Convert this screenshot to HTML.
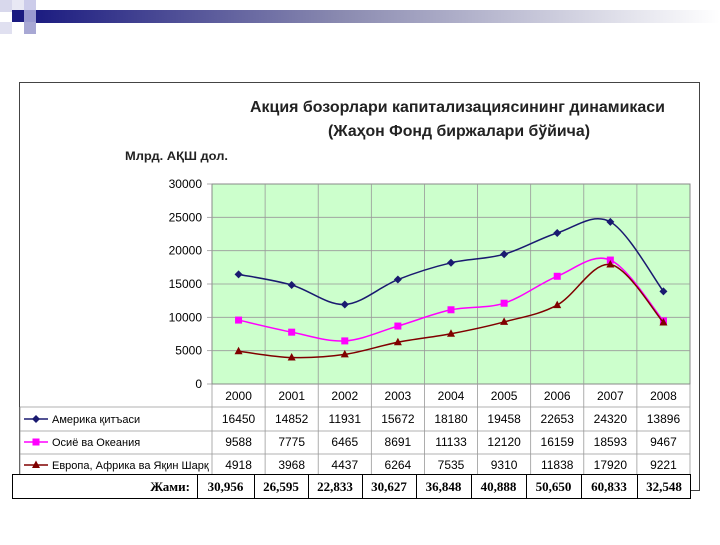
<!DOCTYPE html>
<html><head><meta charset="utf-8"><style>
body{margin:0;width:720px;height:540px;background:#fff;overflow:hidden;font-family:"Liberation Sans",sans-serif}
</style></head><body>
<svg id="s" width="720" height="540" xmlns="http://www.w3.org/2000/svg" font-family="Liberation Sans, sans-serif">
<defs><linearGradient id="g" x1="0" x2="1"><stop offset="0" stop-color="#1a1a80"/><stop offset="0.45" stop-color="#8a8ab0"/><stop offset="1" stop-color="#fff"/></linearGradient></defs>
<rect x="30" y="10" width="690" height="13" fill="url(#g)"/>
<rect x="0" y="0" width="12" height="12" fill="#d8d8ec"/>
<rect x="12" y="0" width="12" height="10" fill="#e8e8f4"/>
<rect x="24" y="0" width="12" height="10" fill="#ccccea"/>
<rect x="12" y="10" width="12" height="12" fill="#1a1a80"/>
<rect x="24" y="10" width="12" height="12" fill="#9a9ad0"/>
<rect x="0" y="22" width="12" height="12" fill="#e0e0f0"/>
<rect x="24" y="22" width="12" height="12" fill="#a8a8d4"/>
<rect x="19.5" y="82.5" width="680" height="408" fill="#fff" stroke="#444" stroke-width="1"/>
<text x="250" y="112" font-size="16" font-weight="bold" fill="#222" textLength="415" lengthAdjust="spacingAndGlyphs">Акция бозорлари капитализациясининг динамикаси</text>
<text x="328" y="136" font-size="16" font-weight="bold" fill="#222" textLength="262" lengthAdjust="spacingAndGlyphs">(Жаҳон Фонд биржалари бўйича)</text>
<text x="125" y="160" font-size="12" font-weight="bold" fill="#222" textLength="103" lengthAdjust="spacingAndGlyphs">Млрд. АҚШ дол.</text>
<rect x="212" y="184" width="478" height="200" fill="#ccffcc" stroke="#888"/>
<g id="grid" stroke="#999" stroke-width="0.8"></g>
<g id="lab" font-size="12" fill="#000"></g>
<g id="ser"></g>
<rect x="12.5" y="474.5" width="678" height="24" fill="#fff" stroke="#000"/>
<g id="tot" font-family="Liberation Serif, serif" font-weight="bold" font-size="13"></g>
</svg>
<script>
var NS="http://www.w3.org/2000/svg",s=document.getElementById('s');
function el(p,t,a,txt){var e=document.createElementNS(NS,t);for(var k in a)e.setAttribute(k,a[k]);if(txt!=null)e.textContent=txt;document.getElementById(p).appendChild(e);return e;}
var X0=212,W=478/9,yrs=[2000,2001,2002,2003,2004,2005,2006,2007,2008];
function Y(v){return 384-v*200/30000;}
for(var v=5000;v<30000;v+=5000)el('grid','line',{x1:212,x2:690,y1:Y(v),y2:Y(v)});
for(var i=1;i<9;i++)el('grid','line',{x1:X0+i*W,x2:X0+i*W,y1:184,y2:477});
for(var v=0;v<=30000;v+=5000){el('grid','line',{x1:207,x2:212,y1:Y(v),y2:Y(v)});el('lab','text',{x:202,y:Y(v)+4,'text-anchor':'end'},v);}
el('grid','line',{x1:212,x2:212,y1:384,y2:477});
el('grid','line',{x1:690,x2:690,y1:384,y2:477});
[407,431,454,477].forEach(function(y){el('grid','line',{x1:20,x2:690,y1:y,y2:y});});
el('grid','line',{x1:20,x2:20,y1:407,y2:477});
yrs.forEach(function(y,i){el('lab','text',{x:X0+W*(i+.5),y:400,'text-anchor':'middle'},y);});
var S=[{n:"Америка қитъаси",c:"#1a1a70",m:"d",d:[16450,14852,11931,15672,18180,19458,22653,24320,13896]},
{n:"Осиё ва Океания",c:"#ff00ff",m:"s",d:[9588,7775,6465,8691,11133,12120,16159,18593,9467]},
{n:"Европа, Африка ва Яқин Шарқ",c:"#800000",m:"t",d:[4918,3968,4437,6264,7535,9310,11838,17920,9221]}];
S.forEach(function(se,r){
 var ry=[423,446,469][r];
 el('grid','line',{x1:24,x2:48,y1:ry-4,y2:ry-4,stroke:se.c,'stroke-width':1.5});
 mark(36,ry-4,se);
 el('lab','text',{x:52,y:ry,'font-size':11},se.n);
 se.d.forEach(function(v,i){el('lab','text',{x:X0+W*(i+.5),y:ry,'text-anchor':'middle'},v);});
 var P=se.d.map(function(v,i){return [X0+W*(i+.5),Y(v)];});
 var d="M"+P[0];
 for(var i=0;i<P.length-1;i++){var p0=P[i-1]||P[i],p1=P[i],p2=P[i+1],p3=P[i+2]||P[i+1];
  d+="C"+(p1[0]+(p2[0]-p0[0])/6)+","+(p1[1]+(p2[1]-p0[1])/6)+" "+(p2[0]-(p3[0]-p1[0])/6)+","+(p2[1]-(p3[1]-p1[1])/6)+" "+p2;}
 el('ser','path',{d:d,fill:'none',stroke:se.c,'stroke-width':1.5});
 P.forEach(function(p){mark(p[0],p[1],se,'ser');});
});
function mark(x,y,se,g){g=g||'grid';
 if(se.m=='d')el(g,'path',{d:'M'+x+','+(y-4)+'L'+(x+4)+','+y+'L'+x+','+(y+4)+'L'+(x-4)+','+y+'Z',fill:se.c,stroke:'none'});
 else if(se.m=='s')el(g,'rect',{x:x-3.5,y:y-3.5,width:7,height:7,fill:se.c,stroke:'none'});
 else el(g,'path',{d:'M'+x+','+(y-4.5)+'L'+(x+4)+','+(y+3)+'L'+(x-4)+','+(y+3)+'Z',fill:se.c,stroke:'none'});}
var tx=[197,254,308,362,416,471,526,581,637,691],tv=["30,956","26,595","22,833","30,627","36,848","40,888","50,650","60,833","32,548"];
el('tot','text',{x:190,y:491,'text-anchor':'end'},"Жами:");
for(var i=0;i<9;i++){el('tot','line',{x1:tx[i]+.5,x2:tx[i]+.5,y1:474,y2:498,stroke:'#000'});el('tot','text',{x:(tx[i]+tx[i+1])/2,y:491,'text-anchor':'middle'},tv[i]);}
</script>
</body></html>
